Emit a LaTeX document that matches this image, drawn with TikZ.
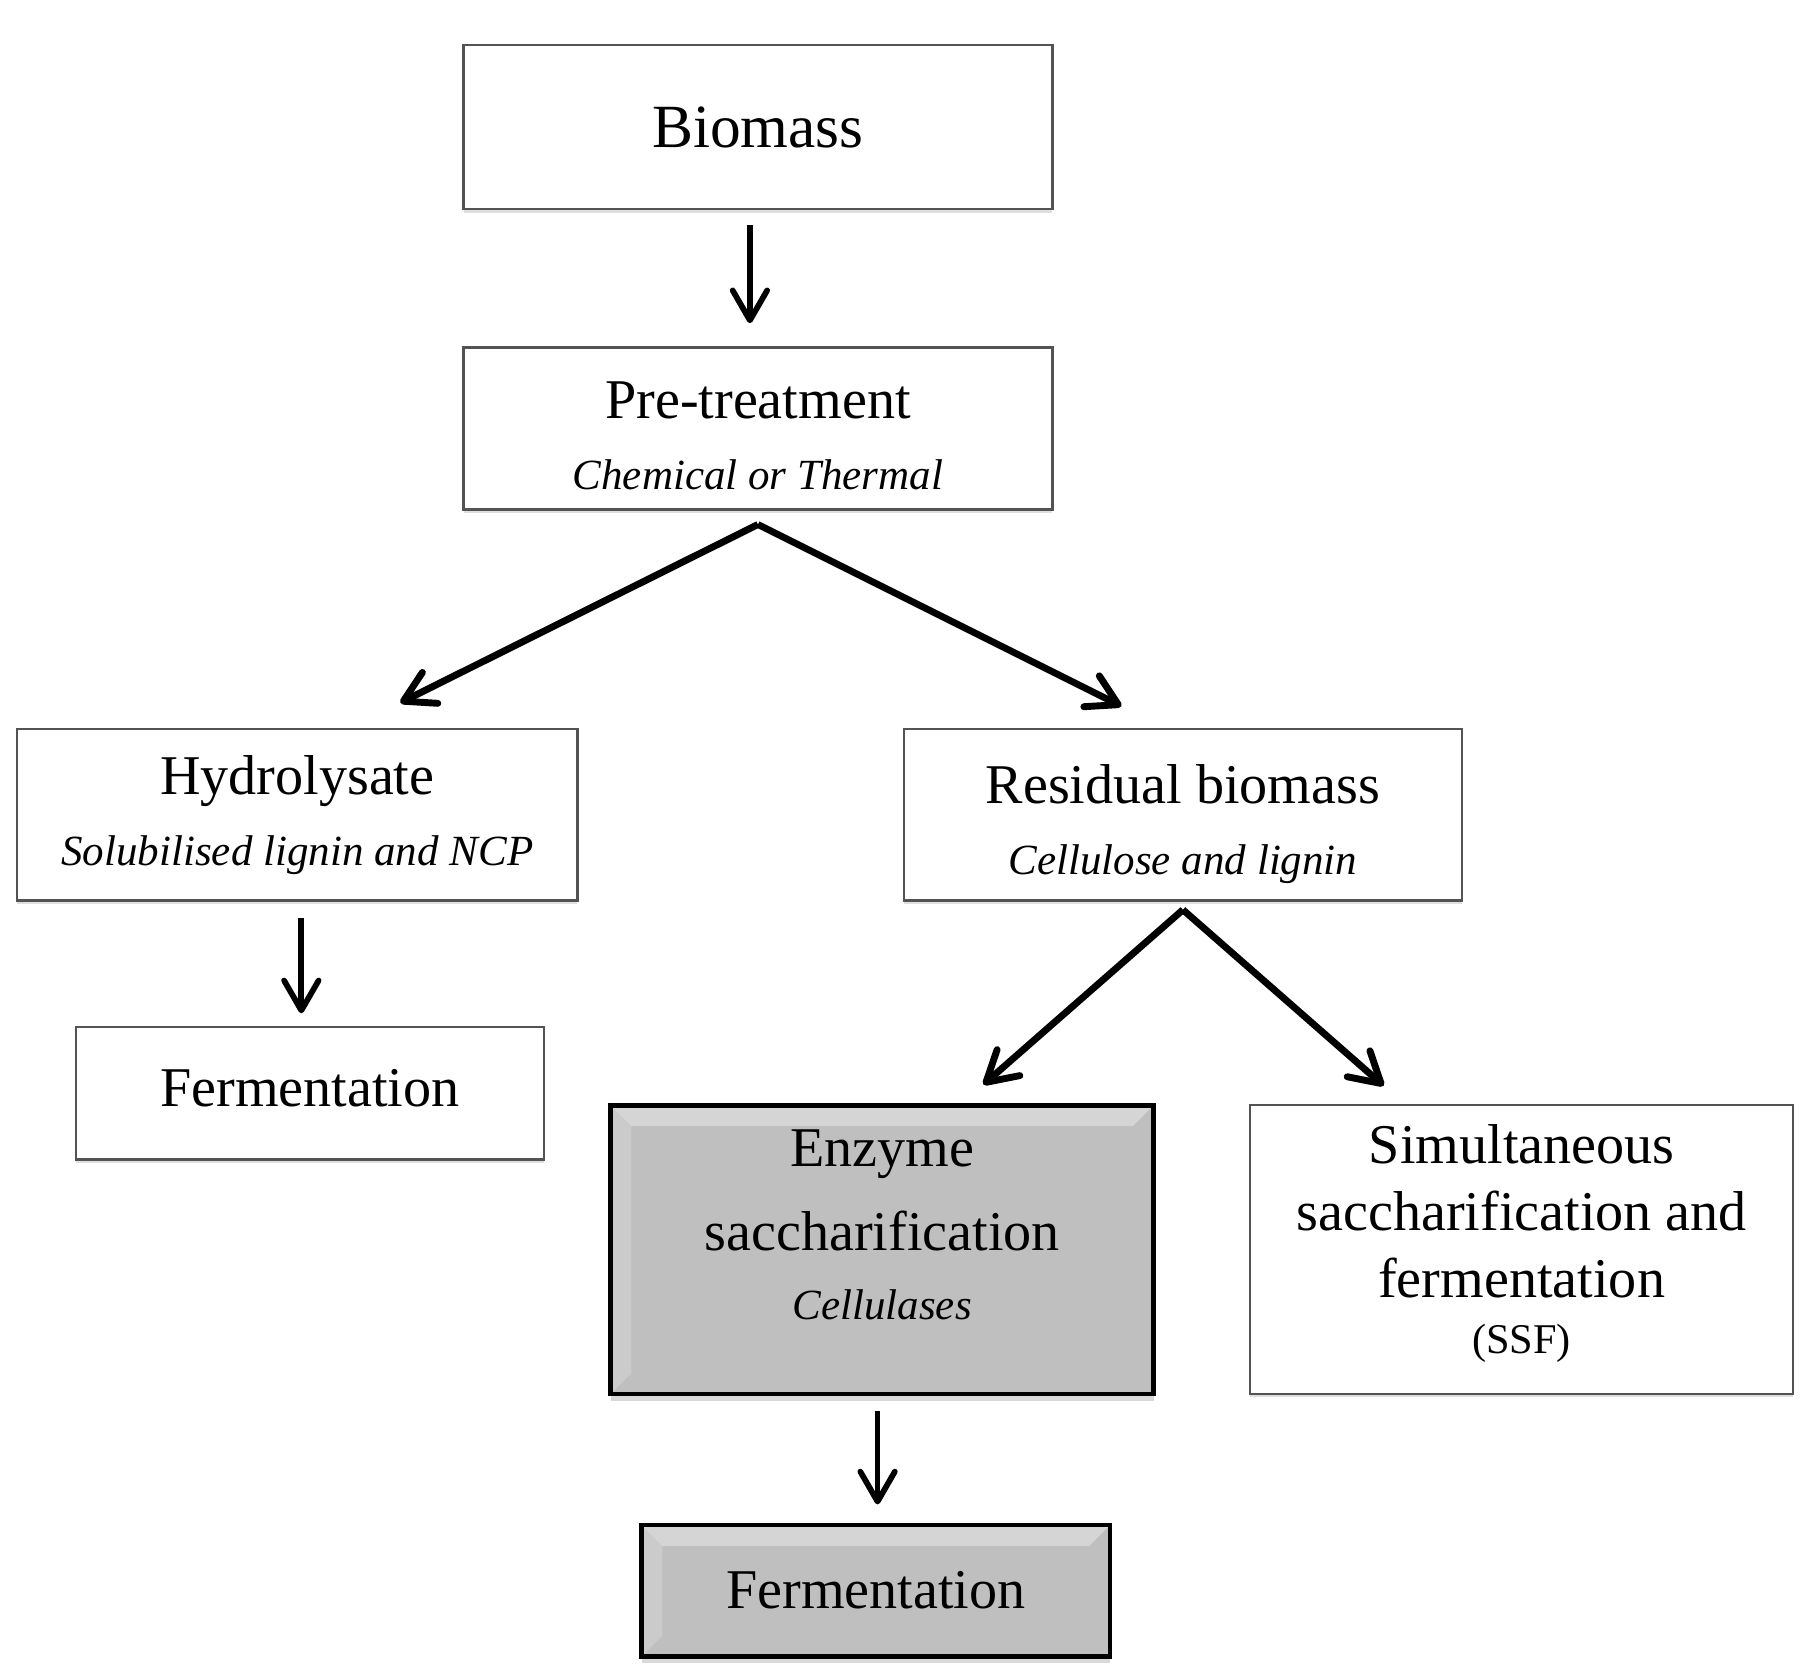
\documentclass[tikz,border=0pt]{standalone}
\usepackage{fontspec}
\setmainfont{Liberation Serif}
\usetikzlibrary{arrows.meta,shadows}

\newcommand{\subline}[1]{{\fontsize{18.7pt}{29pt}\selectfont\itshape #1}}

\begin{document}
\begin{tikzpicture}[x=0.5pt, y=-0.5pt,
  font=\fontsize{24.4pt}{29pt}\selectfont,
  whitebox/.style={draw=gray!65!black, line width=1pt, fill=white, align=center, inner sep=0pt,
    drop shadow={shadow xshift=0pt, shadow yshift=-1.5pt, opacity=0.25}},
  greybox/.style={draw=black, line width=2pt, fill=gray!50, align=center, inner sep=0pt,
    drop shadow={shadow xshift=0pt, shadow yshift=-3pt, opacity=0.3},
    path picture={\fill[white, opacity=0.35] (path picture bounding box.north west) -- (path picture bounding box.north east)
      -- ([xshift=-9pt, yshift=-9pt]path picture bounding box.north east) -- ([xshift=9pt, yshift=-9pt]path picture bounding box.north west) -- cycle;
      \fill[white, opacity=0.2] (path picture bounding box.north west) -- ([xshift=9pt, yshift=-9pt]path picture bounding box.north west)
      -- ([xshift=9pt, yshift=9pt]path picture bounding box.south west) -- (path picture bounding box.south west) -- cycle;}},
  arrowline/.style={-{Straight Barb[length=13pt, width=15pt, line cap=round, line join=round]}, line width=2.5pt}
]
\useasboundingbox (0,0) rectangle (1565,1456);

\node[whitebox, minimum width=256pt, minimum height=71.5pt, font=\fontsize{26.7pt}{30pt}\selectfont] (bio) at (659,110.5) {Biomass};
\node[whitebox, minimum width=256pt, minimum height=70.5pt] (pre) at (659,372.5) {\rule{0pt}{22.5pt}Pre-treatment\\[2pt]\subline{Chemical or Thermal}};
\node[whitebox, minimum width=243.5pt, minimum height=74.5pt] (hyd) at (258.5,708.5) {Hydrolysate\\[2pt]\subline{Solubilised lignin and NCP}};
\node[whitebox, minimum width=242.5pt, minimum height=74.5pt] (res) at (1028.5,708.5) {\rule{0pt}{24.8pt}Residual biomass\\[2pt]\subline{Cellulose and lignin}};
\node[whitebox, minimum width=203.5pt, minimum height=57.5pt, text depth=5pt] (fermA) at (269.5,950.5) {Fermentation};
\node[greybox, minimum width=236pt, minimum height=125.5pt, text depth=22pt] (enz) at (767,1086.5) {Enzyme\\[7.5pt]saccharification\\[1pt]\subline{Cellulases}};
\node[whitebox, minimum width=236pt, minimum height=125.5pt, text depth=9pt] (ssf) at (1323,1086.5) {Simultaneous\\saccharification and\\fermentation\\[-4.5pt]{\fontsize{18.4pt}{29pt}\selectfont (SSF)}};
\node[greybox, minimum width=203.5pt, minimum height=57pt] (fermB) at (761.5,1383) {Fermentation};

\draw[arrowline] ([xshift=-3.5pt, yshift=-6.5pt]bio.south) -- ([xshift=-3.5pt, yshift=10pt]pre.north);
\draw[arrowline, line width=3pt] ([yshift=-6pt]pre.south) -- ([xshift=44.75pt, yshift=11pt]hyd.north);
\draw[arrowline, line width=3pt] ([yshift=-6pt]pre.south) -- ([xshift=-26.75pt, yshift=9.5pt]res.north);
\draw[arrowline] ([xshift=1.75pt, yshift=-7pt]hyd.south) -- ([xshift=-3.75pt, yshift=5.5pt]fermA.north);
\draw[arrowline, line width=3pt] ([yshift=-3.5pt]res.south) -- ([xshift=44pt, yshift=8pt]enz.north);
\draw[arrowline, line width=3pt] ([yshift=-3.5pt]res.south) -- ([xshift=-60pt, yshift=8pt]ssf.north);
\draw[arrowline] ([xshift=-2pt, yshift=-6.5pt]enz.south) -- ([xshift=0.75pt, yshift=8pt]fermB.north);

\end{tikzpicture}
\end{document}
